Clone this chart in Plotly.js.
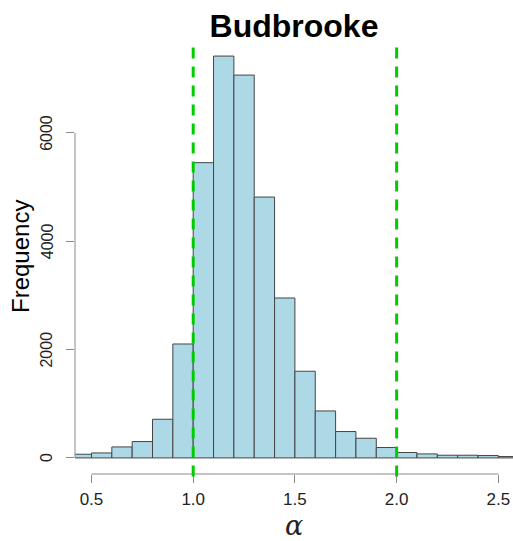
<!DOCTYPE html>
<html>
<head>
<meta charset="utf-8">
<script src="https://cdn.plot.ly/plotly-3.0.1.min.js"></script>
<style>
  html, body { margin: 0; padding: 0; background: #ffffff; }
  #chart { width: 513px; height: 541px; }
</style>
</head>
<body>
<div id="chart"></div>
<script>
// Histogram of the alpha estimates for Budbrooke (bins of width 0.1)
const binStarts = [0.4, 0.5, 0.6, 0.7, 0.8, 0.9, 1.0, 1.1, 1.2, 1.3, 1.4,
                   1.5, 1.6, 1.7, 1.8, 1.9, 2.0, 2.1, 2.2, 2.3, 2.4, 2.5];
const binWidth = 0.1;
const counts = [68, 92, 203, 302, 714, 2103, 5450, 7417, 7066, 4815, 2952,
                1600, 867, 487, 363, 192, 100, 74, 50, 50, 44, 26];

// Reference bounds marked with dashed lines
const refLines = [1.0, 2.0];

const xTicks = [0.5, 1.0, 1.5, 2.0, 2.5];
const xTickText = ['0.5', '1.0', '1.5', '2.0', '2.5'];
const yTicks = [0, 2000, 4000, 6000];
const yTickText = ['0', '2000', '4000', '6000'];

const axisGrey = '#8a8a8a';
const textColor = '#222222';
const maxCount = Math.max(...counts);

const bars = {
  type: 'bar',
  x: binStarts,
  y: counts,
  width: binWidth,
  offset: 0,
  marker: {
    color: '#add8e6',
    line: { color: '#454545', width: 1 }
  },
  hoverinfo: 'x+y'
};

const shapes = [
  // y axis line spanning the labelled ticks only
  {
    type: 'line', xref: 'paper', yref: 'y',
    x0: 0, x1: 0, y0: yTicks[0], y1: yTicks[yTicks.length - 1],
    line: { color: axisGrey, width: 1 }
  },
  // x axis line spanning the labelled ticks only
  {
    type: 'line', xref: 'x', yref: 'paper',
    x0: xTicks[0], x1: xTicks[xTicks.length - 1], y0: 0, y1: 0,
    line: { color: axisGrey, width: 1 }
  }
];

refLines.forEach(v => {
  shapes.push({
    type: 'line', xref: 'x', yref: 'paper',
    x0: v, x1: v, y0: 0.983, y1: -0.021,
    line: { color: '#00cd00', width: 3, dash: '11px,8px' },
    layer: 'above'
  });
});

// Rotated y tick labels, set a little further from the axis than plotly's default
const annotations = yTicks.map((v, i) => ({
  xref: 'paper', yref: 'y',
  x: 0, y: v,
  xshift: -28,
  text: yTickText[i],
  textangle: -90,
  showarrow: false,
  xanchor: 'center', yanchor: 'middle',
  font: { size: 16, color: textColor }
}));

// y axis title
annotations.push({
  xref: 'paper', yref: 'paper',
  x: 0, y: 0.5,
  xshift: -55,
  text: 'Frequency',
  textangle: -90,
  showarrow: false,
  xanchor: 'center', yanchor: 'middle',
  font: { size: 24, color: '#000000' }
});

const layout = {
  width: 513,
  height: 541,
  margin: { l: 75, r: 0, t: 40, b: 67 },
  paper_bgcolor: '#ffffff',
  plot_bgcolor: '#ffffff',
  showlegend: false,
  bargap: 0,
  font: { family: 'Liberation Sans, Arial, sans-serif', color: textColor },
  title: {
    text: '<b>Budbrooke</b>',
    font: { size: 32, color: '#000000', family: 'Liberation Sans, Arial, sans-serif' },
    x: 0.5, xref: 'paper',
    y: 1 - 26 / 541, yref: 'container', yanchor: 'middle'
  },
  xaxis: {
    range: [0.419, 2.572],
    tickvals: xTicks,
    ticktext: xTickText,
    ticks: 'outside',
    ticklen: 8,
    tickwidth: 1,
    tickcolor: axisGrey,
    tickfont: { size: 17, color: textColor },
    ticklabelstandoff: 2,
    showline: false,
    showgrid: false,
    zeroline: false,
    fixedrange: true,
    title: {
      text: 'α',
      font: { size: 27, family: 'DejaVu Serif, Liberation Serif, serif', style: 'italic', color: textColor },
      standoff: 10
    }
  },
  yaxis: {
    range: [-0.04 * maxCount, 1.04 * maxCount],
    tickvals: yTicks,
    ticks: 'outside',
    ticklen: 8,
    tickwidth: 1,
    tickcolor: axisGrey,
    showticklabels: false,
    showline: false,
    showgrid: false,
    zeroline: false,
    fixedrange: true
  },
  annotations: annotations,
  shapes: shapes
};

Plotly.newPlot('chart', [bars], layout, { displayModeBar: false, staticPlot: true });
</script>
</body>
</html>
